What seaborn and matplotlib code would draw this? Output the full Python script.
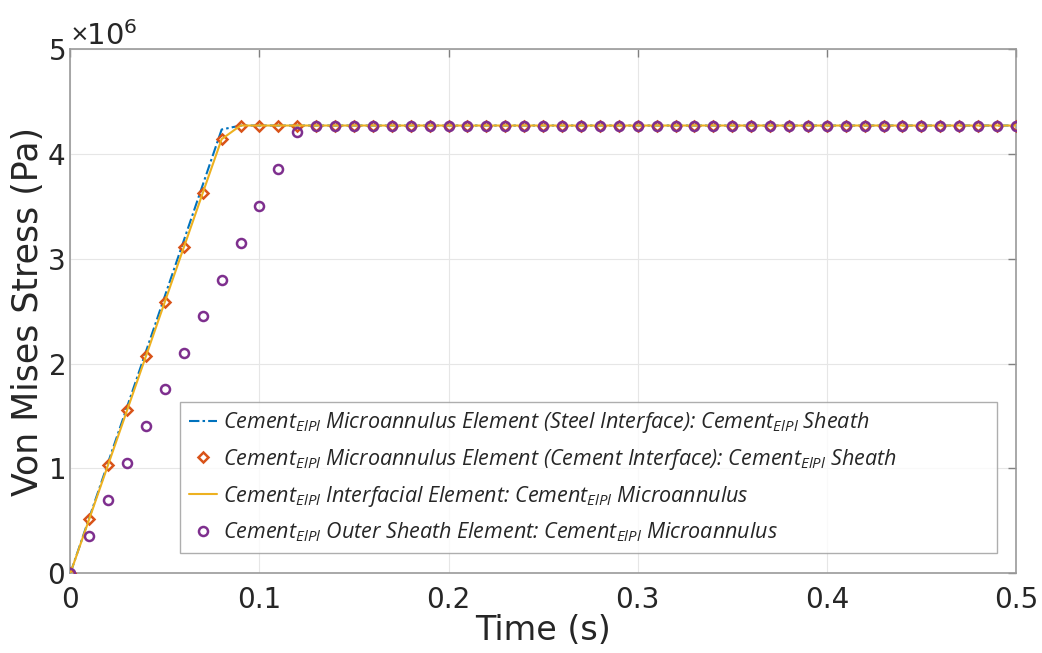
import matplotlib
matplotlib.use("Agg")
import matplotlib.pyplot as plt
import seaborn as sns
import pandas as pd

time_s = [0.00, 0.01, 0.02, 0.03, 0.04, 0.05, 0.06, 0.07, 0.08, 0.09,
          0.10, 0.11, 0.12, 0.13, 0.14, 0.15, 0.16, 0.17, 0.18, 0.19,
          0.20, 0.21, 0.22, 0.23, 0.24, 0.25, 0.26, 0.27, 0.28, 0.29,
          0.30, 0.31, 0.32, 0.33, 0.34, 0.35, 0.36, 0.37, 0.38, 0.39,
          0.40, 0.41, 0.42, 0.43, 0.44, 0.45, 0.46, 0.47, 0.48, 0.49, 0.50]

steel_interface = [0.0, 0.529e6, 1.058e6, 1.587e6, 2.116e6, 2.645e6, 3.174e6, 3.703e6, 4.232e6, 4.27e6,
                   4.27e6, 4.27e6, 4.27e6, 4.27e6, 4.27e6, 4.27e6, 4.27e6, 4.27e6, 4.27e6, 4.27e6,
                   4.27e6, 4.27e6, 4.27e6, 4.27e6, 4.27e6, 4.27e6, 4.27e6, 4.27e6, 4.27e6, 4.27e6,
                   4.27e6, 4.27e6, 4.27e6, 4.27e6, 4.27e6, 4.27e6, 4.27e6, 4.27e6, 4.27e6, 4.27e6,
                   4.27e6, 4.27e6, 4.27e6, 4.27e6, 4.27e6, 4.27e6, 4.27e6, 4.27e6, 4.27e6, 4.27e6, 4.27e6]

cement_interface = [0.0, 0.518e6, 1.036e6, 1.554e6, 2.072e6, 2.590e6, 3.108e6, 3.626e6, 4.140e6, 4.27e6,
                    4.27e6, 4.27e6, 4.27e6, 4.27e6, 4.27e6, 4.27e6, 4.27e6, 4.27e6, 4.27e6, 4.27e6,
                    4.27e6, 4.27e6, 4.27e6, 4.27e6, 4.27e6, 4.27e6, 4.27e6, 4.27e6, 4.27e6, 4.27e6,
                    4.27e6, 4.27e6, 4.27e6, 4.27e6, 4.27e6, 4.27e6, 4.27e6, 4.27e6, 4.27e6, 4.27e6,
                    4.27e6, 4.27e6, 4.27e6, 4.27e6, 4.27e6, 4.27e6, 4.27e6, 4.27e6, 4.27e6, 4.27e6, 4.27e6]

interfacial = [0.0, 0.518e6, 1.036e6, 1.554e6, 2.072e6, 2.590e6, 3.108e6, 3.626e6, 4.140e6, 4.27e6,
               4.27e6, 4.27e6, 4.27e6, 4.27e6, 4.27e6, 4.27e6, 4.27e6, 4.27e6, 4.27e6, 4.27e6,
               4.27e6, 4.27e6, 4.27e6, 4.27e6, 4.27e6, 4.27e6, 4.27e6, 4.27e6, 4.27e6, 4.27e6,
               4.27e6, 4.27e6, 4.27e6, 4.27e6, 4.27e6, 4.27e6, 4.27e6, 4.27e6, 4.27e6, 4.27e6,
               4.27e6, 4.27e6, 4.27e6, 4.27e6, 4.27e6, 4.27e6, 4.27e6, 4.27e6, 4.27e6, 4.27e6, 4.27e6]

outer_sheath = [0.0, 0.355e6, 0.704e6, 1.052e6, 1.404e6, 1.753e6, 2.100e6, 2.454e6, 2.800e6, 3.150e6,
                3.500e6, 3.857e6, 4.210e6, 4.27e6, 4.27e6, 4.27e6, 4.27e6, 4.27e6, 4.27e6, 4.27e6,
                4.27e6, 4.27e6, 4.27e6, 4.27e6, 4.27e6, 4.27e6, 4.27e6, 4.27e6, 4.27e6, 4.27e6,
                4.27e6, 4.27e6, 4.27e6, 4.27e6, 4.27e6, 4.27e6, 4.27e6, 4.27e6, 4.27e6, 4.27e6,
                4.27e6, 4.27e6, 4.27e6, 4.27e6, 4.27e6, 4.27e6, 4.27e6, 4.27e6, 4.27e6, 4.27e6, 4.27e6]

labels = [
    r"Cement$_{ElPl}$ Microannulus Element (Steel Interface): Cement$_{ElPl}$ Sheath",
    r"Cement$_{ElPl}$ Microannulus Element (Cement Interface): Cement$_{ElPl}$ Sheath",
    r"Cement$_{ElPl}$ Interfacial Element: Cement$_{ElPl}$ Microannulus",
    r"Cement$_{ElPl}$ Outer Sheath Element: Cement$_{ElPl}$ Microannulus",
]
x_ticks = [0, 0.1, 0.2, 0.3, 0.4, 0.5]
x_tick_labels = ["0", "0.1", "0.2", "0.3", "0.4", "0.5"]
y_ticks = [0, 1e6, 2e6, 3e6, 4e6, 5e6]

sns.set_theme(style="white")
plt.rcParams["font.family"] = ["DejaVu Sans"]
plt.rcParams["mathtext.fontset"] = "custom"
plt.rcParams["mathtext.it"] = "Open Sans:italic"
plt.rcParams["mathtext.rm"] = "Open Sans:italic"

df = pd.DataFrame({"t": time_s, "steel": steel_interface, "cem": cement_interface,
                   "inter": interfacial, "outer": outer_sheath})

fig = plt.figure(figsize=(10.42, 6.53), dpi=100)
ax = fig.add_axes([0.0675, 0.122, 0.9075, 0.803])

c_blue, c_orange, c_yellow, c_purple = "#0072BD", "#D95319", "#EDB120", "#7E2F8E"

sns.lineplot(data=df, x="t", y="steel", ax=ax, color=c_blue, linewidth=1.5,
             label=labels[0], zorder=3)
ax.lines[-1].set_dashes([5, 1.5, 1.2, 1.5])
ax.plot(df["t"], df["cem"], linestyle="none", marker="D", markersize=5,
        markerfacecolor="none", markeredgecolor=c_orange, markeredgewidth=1.8,
        label=labels[1], zorder=4)
sns.lineplot(data=df, x="t", y="inter", ax=ax, color=c_yellow, linewidth=1.5,
             label=labels[2], zorder=5)
ax.plot(df["t"], df["outer"], linestyle="none", marker="o", markersize=6.5,
        markerfacecolor="none", markeredgecolor=c_purple, markeredgewidth=1.8,
        label=labels[3], zorder=6)

ax.set_xlim(0, 0.5)
ax.set_ylim(0, 5e6)
ax.set_xticks(x_ticks)
ax.set_yticks(y_ticks)
ax.ticklabel_format(style="sci", axis="y", scilimits=(0, 0), useMathText=True)
ax.yaxis.get_offset_text().set_fontsize(21)
ax.yaxis.get_offset_text().set_color("#262626")
ax.set_xticklabels(x_tick_labels)
ax.tick_params(axis="both", labelsize=20, direction="in", length=6, width=1,
               colors="#808080", labelcolor="#262626", top=True, right=True,
               pad=4)
ax.tick_params(axis="x", pad=9)
ax.grid(True, color="#e6e6e6", linewidth=0.8)
for s in ax.spines.values():
    s.set_color("#9a9a9a")
    s.set_linewidth(1.2)
ax.set_xlabel("Time (s)", fontsize=24, color="#262626", labelpad=0)
ax.set_ylabel("Von Mises Stress (Pa)", fontsize=25, color="#262626", labelpad=1)

leg = ax.legend(loc="lower left", bbox_to_anchor=(0.116, 0.039, 0.864, 0.285),
                mode="expand",
                prop={"family": "Open Sans", "style": "italic", "size": 15.5},
                frameon=True, fancybox=False, edgecolor="#9a9a9a",
                handlelength=1.3, handletextpad=0.3, borderpad=0.4,
                labelspacing=0.55, borderaxespad=0)
leg.get_frame().set_linewidth(1.0)

fig.savefig("out.png", dpi=100)
